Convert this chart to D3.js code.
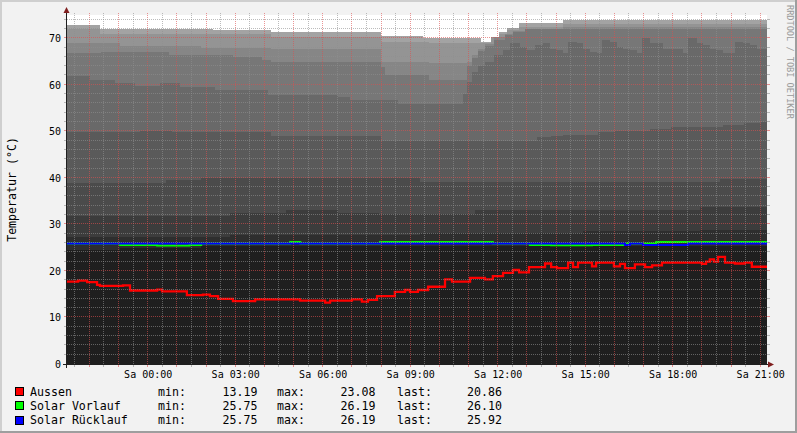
<!DOCTYPE html>
<html>
<head>
<meta charset="utf-8">
<script src="https://cdn.jsdelivr.net/npm/d3@7"></script>
<style>
  html, body { margin: 0; padding: 0; background: #f2f2f2; }
  svg { display: block; font-family: "DejaVu Sans Mono", monospace; }
</style>
</head>
<body>
<div id="chart"></div>
<script>
// Time window: Fri 21:15 -> Sat 21:15. All series below use hours since window start.
const windowStart = new Date(2012, 5, 15, 21, 15);
const windowHours = 24;

const yTicks = [0, 10, 20, 30, 40, 50, 60, 70];

// Buffer tank layers, bottom (layer0) to top (layer9): [hour, °C] breakpoints
const layer0 = [[0, 24.5], [1.8, 25.0], [4.6, 25.4]];
const layer1 = [[0, 27.3], [5.6, 27.8], [12.1, 28.1], [17.7, 28.6], [21.7, 28.9]];
const layer2 = [[0, 31.7], [5.6, 32.5], [7.5, 33.1], [9.3, 32.5], [10.7, 32.2], [14.0, 33.0], [21.7, 33.7]];
const layer3 = [[0, 39.0], [3.4, 39.5], [4.6, 39.9], [12.1, 39.2], [22.4, 39.8]];
const layer4 = [[0, 49.9], [2.5, 50.1], [3.6, 49.9], [7.0, 49.1], [10.75, 47.9], [16.1, 48.7], [16.6, 49.0],
  [17.0, 49.2], [18.2, 49.8], [18.8, 50.1], [20.0, 50.6], [20.7, 51.0], [22.5, 51.4], [23.2, 51.7], [23.8, 51.9]];
const layer5 = [[0, 61.8], [0.79, 61.0], [1.65, 60.4], [2.33, 59.8], [3.19, 60.3], [3.87, 59.6], [5.07, 58.9],
  [6.89, 57.9], [9.29, 57.4], [9.7, 56.7], [11.35, 55.8], [13.58, 58.0], [13.71, 60.5], [13.88, 62.8],
  [14.09, 64.0], [14.33, 65.0], [14.64, 66.3], [14.95, 67.5], [15.19, 68.9], [15.53, 68.2], [15.77, 67.5],
  [16.04, 68.6], [16.32, 68.9], [16.56, 67.8], [16.8, 67.5], [17.0, 66.8], [17.18, 69.3], [17.48, 68.9],
  [17.69, 67.8], [17.93, 67.1], [18.17, 66.8], [18.34, 69.6], [18.62, 69.3], [18.86, 68.2], [19.06, 67.7],
  [19.3, 67.5], [19.54, 66.8], [19.71, 70.0], [19.99, 68.9], [20.43, 67.8], [21.12, 66.8], [21.29, 70.0],
  [21.6, 68.9], [21.8, 68.6], [22.04, 67.8], [22.28, 67.5], [22.49, 66.8], [22.9, 69.3], [23.17, 68.9],
  [23.41, 68.6], [23.65, 67.8], [23.86, 67.6]];
const layer6 = [[0, 66.8], [1.15, 67.1], [3.5, 66.4], [5.7, 65.9], [6.7, 65.3], [7.0, 65.0], [10.75, 63.9],
  [10.9, 62.0], [12.4, 61.0], [13.7, 64.0], [13.88, 65.8], [14.09, 67.3], [14.33, 68.3], [14.64, 69.6],
  [15.0, 70.6], [15.3, 71.3], [15.7, 71.9]];
const layer7 = [[0, 69.0], [1.8, 68.4], [4.6, 68.0], [7.0, 67.8], [10.75, 64.9], [12.4, 64.6], [13.71, 65.0],
  [13.88, 66.5], [14.09, 67.8], [14.33, 68.8], [14.64, 70.2], [15.0, 70.9], [15.3, 71.6], [15.7, 72.0], [17.0, 72.4]];
const layer8 = [[0, 71.9], [1.13, 71.0], [7.0, 70.2], [10.75, 69.3], [12.4, 68.9], [14.55, 70.3], [14.8, 71.0],
  [15.1, 71.8], [15.5, 72.5], [17.0, 73.0]];
const layer9 = [[0, 72.9], [1.13, 72.0], [5.0, 71.8], [7.0, 71.3], [10.75, 70.5], [12.2, 70.1], [14.2, 69.2],
  [14.55, 70.3], [14.8, 71.3], [15.1, 72.3], [15.5, 73.3], [17.0, 74.0]];
const layerColors = ["#1f1f1f", "#2e2e2e", "#3c3c3c", "#4b4b4b", "#5a5a5a",
  "#696969", "#777777", "#868686", "#949494", "#a3a3a3"];

const aussen = [[0, 17.7], [0.38, 17.9], [0.69, 17.6], [1.03, 17.0], [1.13, 16.8], [1.92, 16.9], [2.16, 15.8],
  [3.09, 16.0], [3.26, 15.6], [4.11, 14.8], [4.66, 14.9], [4.9, 14.6], [5.18, 14.0], [5.69, 13.5], [6.45, 13.9],
  [7.99, 13.6], [8.85, 13.2], [9.02, 13.6], [9.77, 13.9], [10.11, 13.4], [10.32, 13.8], [10.63, 14.6],
  [11.24, 15.5], [11.59, 15.9], [11.76, 15.5], [12.03, 15.9], [12.38, 16.6], [12.96, 18.2], [13.2, 17.7],
  [13.82, 18.5], [14.33, 18.2], [14.6, 18.9], [14.95, 19.6], [15.29, 20.2], [15.5, 19.7], [15.84, 20.8],
  [16.39, 21.6], [16.6, 20.8], [16.8, 20.6], [17.18, 21.8], [17.35, 20.8], [17.52, 21.8], [18.0, 21.0],
  [18.14, 21.8], [18.75, 21.0], [18.96, 21.5], [19.13, 20.6], [19.47, 21.4], [19.82, 20.8], [20.06, 21.2],
  [20.4, 21.8], [21.77, 21.5], [21.91, 22.0], [22.04, 22.5], [22.18, 22.0], [22.32, 23.0], [22.56, 21.8],
  [22.9, 21.6], [23.24, 21.8], [23.48, 20.9]];
const solarVorlauf = [[0, 25.9], [1.82, 25.6], [3.09, 25.45], [4.2, 25.6], [4.6, 25.9], [7.65, 26.2], [8.0, 25.9],
  [10.73, 26.2], [14.6, 25.9], [15.87, 25.6], [16.6, 25.5], [18.0, 25.6], [19.2, 25.9], [20.2, 26.2]];
const solarRuecklauf = [[0, 25.9], [19.13, 25.6], [19.3, 25.9], [19.75, 25.6], [21.3, 25.92]];

const legendNames = ["Aussen", "Solar Vorlauf", "Solar Rücklauf"];
const legendColors = ["#ff0000", "#00ff00", "#0000ff"];
const legendMin = ["13.19", "25.75", "25.75"];
const legendMax = ["23.08", "26.19", "26.19"];
const legendLast = ["20.86", "26.10", "25.92"];

const W = 797, H = 433;
const plot = { left: 67, right: 767, top: 15, bottom: 364 };

const de = d3.timeFormatLocale({
    dateTime: "%A, %e. %B %Y, %X", date: "%d.%m.%Y", time: "%H:%M:%S", periods: ["AM", "PM"],
    days: ["Sonntag", "Montag", "Dienstag", "Mittwoch", "Donnerstag", "Freitag", "Samstag"],
    shortDays: ["So", "Mo", "Di", "Mi", "Do", "Fr", "Sa"],
    months: ["Januar", "Februar", "März", "April", "Mai", "Juni", "Juli", "August", "September", "Oktober", "November", "Dezember"],
    shortMonths: ["Jan", "Feb", "Mrz", "Apr", "Mai", "Jun", "Jul", "Aug", "Sep", "Okt", "Nov", "Dez"]
});
const fmtTick = de.format("%a %H:%M");

const at = h => new Date(+windowStart + h * 3600e3);
const windowEnd = at(windowHours);

const x = d3.scaleTime().domain([windowStart, windowEnd]).range([plot.left, plot.right]);
const y = d3.scaleLinear().domain([0, 75]).range([plot.bottom, plot.top]);
const px = v => Math.round(v) + 0.5;

const svg = d3.select("#chart").append("svg")
    .attr("width", W).attr("height", H);

// background + rrdtool style shaded frame
svg.append("rect").attr("width", W).attr("height", H).attr("fill", "#f2f2f2");
svg.append("rect").attr("width", W).attr("height", 2).attr("fill", "#cfcfcf");
svg.append("rect").attr("width", 2).attr("height", H).attr("fill", "#cfcfcf");
svg.append("rect").attr("x", W - 2).attr("width", 2).attr("height", H).attr("fill", "#9e9e9e");
svg.append("rect").attr("y", H - 2).attr("width", W).attr("height", 2).attr("fill", "#9e9e9e");

svg.append("defs").append("clipPath").attr("id", "plotClip")
  .append("rect")
    .attr("x", plot.left).attr("y", plot.top)
    .attr("width", plot.right - plot.left).attr("height", plot.bottom - plot.top);

svg.append("rect")
    .attr("x", plot.left).attr("y", plot.top)
    .attr("width", plot.right - plot.left).attr("height", plot.bottom - plot.top)
    .attr("fill", "#ffffff");

const dataG = svg.append("g").attr("clip-path", "url(#plotClip)");

// carry last value to the window end so step areas reach the right edge
const toEnd = pts => pts.concat([[windowHours, pts[pts.length - 1][1]]]);

const area = d3.area()
    .x(d => x(at(d[0])))
    .y0(plot.bottom)
    .y1(d => y(d[1]))
    .curve(d3.curveStepAfter);

const layers = [layer0, layer1, layer2, layer3, layer4, layer5, layer6, layer7, layer8, layer9];
// highest layer first, lower ones painted over it
for (let i = layers.length - 1; i >= 0; i--) {
    dataG.append("path")
        .attr("d", area(toEnd(layers[i])))
        .attr("fill", layerColors[i])
        .attr("shape-rendering", "crispEdges");
}

// grid on top of the areas
const gridG = svg.append("g").attr("shape-rendering", "crispEdges").attr("stroke-width", 1);
const minorCol = "rgba(143,143,143,0.6)";
const majorCol = "rgba(222,79,79,0.6)";

d3.timeMinute.every(30).range(windowStart, windowEnd).forEach(t => {
    const xx = px(x(t));
    if (xx <= plot.left + 1) return;
    const col = t.getMinutes() === 0 ? majorCol : minorCol;
    gridG.append("line").attr("x1", xx).attr("x2", xx)
        .attr("y1", plot.top - 2).attr("y2", plot.bottom)
        .attr("stroke", col).attr("stroke-dasharray", "1,1");
    gridG.append("line").attr("x1", xx).attr("x2", xx)
        .attr("y1", plot.bottom).attr("y2", plot.bottom + 3)
        .attr("stroke", col);
});

d3.range(2, 75, 2).forEach(v => {
    const yy = px(y(v)) - 1;
    const col = v % 10 === 0 ? majorCol : minorCol;
    gridG.append("line").attr("x1", plot.left).attr("x2", plot.right)
        .attr("y1", yy).attr("y2", yy)
        .attr("stroke", col).attr("stroke-dasharray", "1,1");
    gridG.append("line").attr("x1", plot.left - 3).attr("x2", plot.left)
        .attr("y1", yy).attr("y2", yy).attr("stroke", col);
    gridG.append("line").attr("x1", plot.right).attr("x2", plot.right + 3)
        .attr("y1", yy).attr("y2", yy).attr("stroke", col);
});

// lines
const line = d3.line()
    .x(d => x(at(d[0])))
    .y(d => y(d[1]))
    .curve(d3.curveStepAfter);

const series = [aussen, solarVorlauf, solarRuecklauf];
series.forEach((s, i) => {
    dataG.append("path")
        .attr("d", line(toEnd(s)))
        .attr("fill", "none")
        .attr("stroke", legendColors[i])
        .attr("stroke-width", i === 0 ? 2.3 : 2);
});

// axes
const axisG = svg.append("g").attr("shape-rendering", "crispEdges");
axisG.append("line")
    .attr("x1", plot.left - 0.5).attr("x2", plot.left - 0.5)
    .attr("y1", plot.top - 4).attr("y2", plot.bottom + 4)
    .attr("stroke", "#1f1f1f");
axisG.append("line")
    .attr("x1", plot.left - 4).attr("x2", plot.right + 2)
    .attr("y1", plot.bottom + 0.5).attr("y2", plot.bottom + 0.5)
    .attr("stroke", "#1f1f1f");
svg.append("path")
    .attr("d", `M${plot.left - 3.5},${plot.top - 2} L${plot.left + 2.5},${plot.top - 2} L${plot.left - 0.5},${plot.top - 8} Z`)
    .attr("fill", "#801f1f");
svg.append("path")
    .attr("d", `M${plot.right + 1},${plot.bottom - 2.5} L${plot.right + 1},${plot.bottom + 3.5} L${plot.right + 7},${plot.bottom + 0.5} Z`)
    .attr("fill", "#801f1f");

// tick labels
svg.append("g").selectAll("text")
  .data(yTicks)
  .enter().append("text")
    .attr("x", plot.left - 6)
    .attr("y", d => y(d) + 3.8)
    .attr("text-anchor", "end")
    .attr("font-size", "10px")
    .attr("fill", "#000")
    .text(d => d);

svg.append("g").selectAll("text")
  .data(d3.timeHour.every(3).range(windowStart, windowEnd))
  .enter().append("text")
    .attr("x", d => x(d) + 1)
    .attr("y", plot.bottom + 13.5)
    .attr("text-anchor", "middle")
    .attr("font-size", "10px")
    .attr("fill", "#000")
    .text(d => fmtTick(d));

// axis title + watermark
svg.append("text")
    .attr("transform", `translate(15.5,${(plot.top + plot.bottom) / 2}) rotate(-90)`)
    .attr("text-anchor", "middle")
    .attr("font-size", "11.6px")
    .attr("fill", "#000")
    .text("Temperatur (°C)");

svg.append("text")
    .attr("transform", "translate(787,5) rotate(90)")
    .attr("font-size", "8.6px")
    .attr("fill", "#9a9a9a")
    .text("RRDTOOL / TOBI OETIKER");

// legend
const legend = svg.append("g").attr("font-size", "11.6px").attr("fill", "#000");
legendNames.forEach((name, i) => {
    const base = 395.5 + i * 14.3;
    legend.append("rect")
        .attr("x", 15.5).attr("y", base - 8)
        .attr("width", 8).attr("height", 8)
        .attr("fill", legendColors[i])
        .attr("stroke", "#000")
        .attr("shape-rendering", "crispEdges");
    legend.append("text").attr("x", 30).attr("y", base).text(name);
    legend.append("text").attr("x", 158).attr("y", base).text("min:");
    legend.append("text").attr("x", 257.5).attr("y", base).attr("text-anchor", "end").text(legendMin[i]);
    legend.append("text").attr("x", 277).attr("y", base).text("max:");
    legend.append("text").attr("x", 375.5).attr("y", base).attr("text-anchor", "end").text(legendMax[i]);
    legend.append("text").attr("x", 397).attr("y", base).text("last:");
    legend.append("text").attr("x", 502).attr("y", base).attr("text-anchor", "end").text(legendLast[i]);
});
</script>
</body>
</html>
